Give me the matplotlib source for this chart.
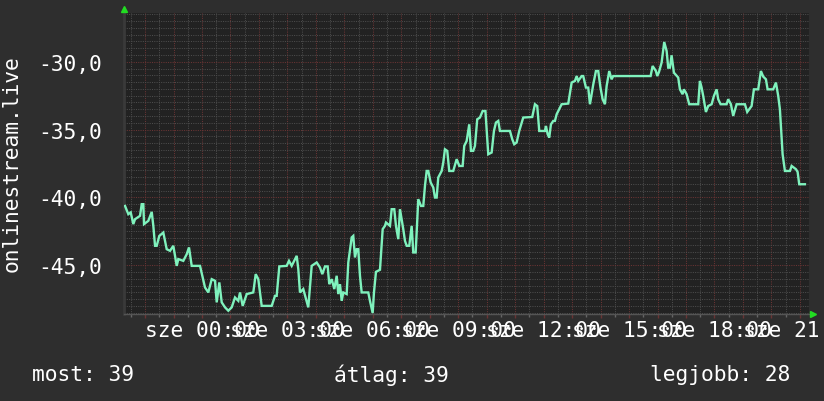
import matplotlib
matplotlib.use("Agg")
import matplotlib.pyplot as plt
from matplotlib.ticker import MultipleLocator, FixedLocator, NullFormatter

# time in hours relative to midnight (negative = previous evening), rank value
times = [-2.704, -2.588, -2.504, -2.413, -2.353, -2.177, -2.118, -2.061, -2.037, -1.886,
         -1.766, -1.710, -1.650, -1.591, -1.500, -1.359, -1.299, -1.240, -1.124, -1.008,
         -0.888, -0.832, -0.657, -0.537, -0.457, -0.362, -0.070, 0.105, 0.221, 0.341,
         0.457, 0.516, 0.608, 0.692, 0.808, 0.924, 1.043, 1.159, 1.275, 1.334,
         1.429, 1.570, 1.801, 1.886, 1.977, 2.096, 2.448, 2.564, 2.623, 2.715,
         2.974, 3.055, 3.150, 3.326, 3.382, 3.441, 3.557, 3.652, 3.733, 3.852,
         4.028, 4.144, 4.225, 4.319, 4.414, 4.470, 4.555, 4.646, 4.730, 4.786,
         4.846, 4.906, 4.962, 5.081, 5.138, 5.257, 5.313, 5.373, 5.433, 5.489,
         5.548, 5.608, 5.840, 5.899, 5.994, 6.040, 6.110, 6.251, 6.346, 6.426,
         6.462, 6.602, 6.662, 6.753, 6.813, 6.894, 6.953, 7.069, 7.129, 7.189,
         7.280, 7.364, 7.420, 7.505, 7.596, 7.691, 7.772, 7.831, 7.891, 7.947,
         8.031, 8.123, 8.182, 8.242, 8.298, 8.418, 8.474, 8.533, 8.614, 8.684,
         8.825, 8.944, 9.036, 9.155, 9.211, 9.295, 9.387, 9.446, 9.527, 9.587,
         9.667, 9.762, 9.857, 9.955, 10.054, 10.173, 10.254, 10.324, 10.405, 10.465,
         10.816, 10.897, 10.967, 11.051, 11.142, 11.283, 11.599, 11.694, 11.775, 11.845,
         12.045, 12.080, 12.140, 12.196, 12.256, 12.337, 12.396, 12.456, 12.632, 12.864,
         12.983, 13.099, 13.159, 13.215, 13.334, 13.390, 13.485, 13.566, 13.626, 13.743,
         13.836, 13.917, 13.994, 14.071, 14.152, 14.212, 14.303, 14.387, 14.443, 15.757,
         15.827, 15.943, 15.989, 16.048, 16.143, 16.235, 16.319, 16.375, 16.435, 16.494,
         16.575, 16.726, 16.786, 16.880, 16.926, 17.021, 17.113, 17.429, 17.488, 17.548,
         17.604, 17.699, 17.780, 17.899, 17.980, 18.075, 18.131, 18.215, 18.426, 18.482,
         18.577, 18.658, 18.777, 19.069, 19.150, 19.304, 19.385, 19.536, 19.631, 19.712,
         19.807, 19.866, 20.063, 20.158, 20.239, 20.298, 20.393, 20.474, 20.650, 20.710,
         20.861, 20.920, 20.977, 21.177]
ranks = [40.63, 41.24, 41.11, 41.97, 41.61, 41.36, 40.50, 40.50, 41.97, 41.73,
         41.07, 42.10, 43.57, 43.57, 42.84, 42.59, 43.21, 43.82, 43.94, 43.57,
         45.05, 44.55, 44.68, 44.19, 43.69, 45.05, 45.05, 46.64, 47.01, 46.03,
         46.15, 47.74, 46.27, 47.74, 48.11, 48.36, 48.11, 47.38, 47.63, 47.01,
         48.00, 47.13, 47.01, 45.66, 46.03, 48.00, 48.00, 47.26, 47.26, 45.09,
         45.05, 44.68, 45.05, 44.31, 45.29, 47.01, 46.76, 47.50, 48.11, 45.05,
         44.80, 45.17, 45.66, 45.09, 45.09, 46.40, 46.03, 46.76, 45.78, 47.13,
         46.40, 47.63, 47.01, 47.13, 44.80, 42.95, 42.84, 44.43, 43.82, 43.82,
         45.78, 47.01, 47.01, 47.63, 48.53, 47.01, 45.49, 45.34, 42.34, 42.10,
         41.85, 42.10, 40.87, 40.87, 42.10, 43.08, 40.87, 42.34, 43.21, 43.57,
         43.57, 42.10, 44.06, 44.06, 40.13, 40.63, 40.63, 39.15, 38.05, 38.05,
         38.90, 39.27, 40.01, 40.01, 38.53, 38.05, 37.43, 36.45, 36.57, 38.05,
         38.05, 37.18, 37.68, 37.68, 36.20, 35.84, 34.61, 36.57, 36.57, 36.20,
         34.24, 34.11, 33.63, 33.63, 36.82, 36.69, 35.10, 34.48, 34.36, 35.10,
         35.10, 35.71, 36.08, 35.95, 35.10, 34.11, 34.07, 33.13, 33.26, 35.10,
         35.10, 34.73, 35.34, 35.59, 34.61, 34.36, 34.36, 33.87, 33.13, 33.08,
         31.53, 31.41, 31.05, 31.41, 31.05, 31.05, 31.90, 31.90, 33.13, 31.66,
         30.68, 30.68, 31.88, 32.76, 33.13, 31.78, 30.68, 31.29, 31.05, 31.05,
         30.31, 30.68, 31.05, 30.77, 30.06, 28.54, 29.20, 30.43, 30.43, 29.52,
         30.80, 31.16, 32.03, 32.39, 32.03, 32.39, 33.13, 33.13, 31.41, 31.90,
         32.52, 33.70, 33.26, 33.13, 32.52, 32.03, 32.76, 33.13, 33.13, 32.76,
         33.13, 33.99, 33.13, 33.13, 33.70, 33.26, 32.03, 32.03, 30.68, 31.09,
         31.29, 32.03, 32.03, 31.53, 32.52, 33.50, 36.82, 38.05, 38.05, 37.68,
         37.92, 38.12, 39.03, 39.03]

x_label_hours = [0, 3, 6, 9, 12, 15, 18, 21]
x_labels = ["sze 00:00", "sze 03:00", "sze 06:00", "sze 09:00",
            "sze 12:00", "sze 15:00", "sze 18:00", "sze 21:00"]
y_ticks = [-45, -40, -35, -30]
y_tick_labels = ["-45,0", "-40,0", "-35,0", "-30,0"]
y_title = "onlinestream.live"
stats = ["most: 39", "átlag: 39", "legjobb: 28"]

FONT = "DejaVu Sans Mono"
FS = 15.3
BG = "#2e2e2e"
PLOT_BG = "#222222"
LINE = "#7ff2bd"

fig = plt.figure(figsize=(8.24, 4.02), dpi=100, facecolor=BG)
ax = fig.add_axes([124 / 824, 1 - 315 / 402, (809 - 124) / 824, (315 - 14) / 402])
ax.set_facecolor(PLOT_BG)

values = [-r for r in ranks]
ax.plot(times, values, color=LINE, lw=1.7, solid_joinstyle="miter", zorder=3)

ax.set_xlim(-2.74, 21.32)
ax.set_ylim(-48.6, -26.4)

ax.xaxis.set_major_locator(MultipleLocator(1))
ax.xaxis.set_minor_locator(MultipleLocator(0.5))
ax.yaxis.set_major_locator(FixedLocator(y_ticks))
ax.yaxis.set_minor_locator(MultipleLocator(0.5))
ax.xaxis.set_major_formatter(NullFormatter())
ax.set_yticklabels(y_tick_labels)

ax.grid(which="minor", color="#4c4c4c", linestyle=(0, (1, 1.2)), linewidth=0.75, zorder=1)
ax.grid(which="major", color="#6a3434", linestyle=(0, (1, 1.2)), linewidth=0.75, zorder=2)
ax.set_axisbelow(True)

for s in ["top", "right"]:
    ax.spines[s].set_visible(False)
ax.spines["left"].set_color("#3a3a3a")
ax.spines["left"].set_linewidth(2)
ax.spines["bottom"].set_color("#555555")
ax.spines["bottom"].set_linewidth(1)

ax.tick_params(axis="y", which="both", length=0, pad=16, labelsize=FS, labelcolor="white")
for lab in ax.get_yticklabels():
    lab.set_fontfamily(FONT)
ax.tick_params(axis="x", which="major", length=3, color="#6a3434", width=1)
ax.tick_params(axis="x", which="minor", length=2, color="#666666", width=1)

for h, lab in zip(x_label_hours, x_labels):
    ax.text(h, -0.053, lab, transform=ax.get_xaxis_transform(), ha="center", va="center",
            fontsize=FS, fontfamily=FONT, color="white", clip_on=False)

fig.text(12 / 824, 1 - 164 / 402, y_title, rotation=90, ha="center", va="center",
         fontsize=FS, fontfamily=FONT, color="white")

fig.text(32 / 824, 1 - 375 / 402, stats[0], ha="left", va="center",
         fontsize=FS, fontfamily=FONT, color="white")
fig.text(334 / 824, 1 - 375 / 402, stats[1], ha="left", va="center",
         fontsize=FS, fontfamily=FONT, color="white")
fig.text(650 / 824, 1 - 375 / 402, stats[2], ha="left", va="center",
         fontsize=FS, fontfamily=FONT, color="white")

# axis arrows
fig.lines.append(plt.Line2D([124.5 / 824], [1 - 10 / 402], marker="^", markersize=5,
                            color="#22dd22", transform=fig.transFigure, figure=fig))
fig.lines.append(plt.Line2D([813 / 824], [1 - 315 / 402], marker=">", markersize=5,
                            color="#22dd22", transform=fig.transFigure, figure=fig))

fig.savefig("out.png", dpi=100, facecolor=BG)
